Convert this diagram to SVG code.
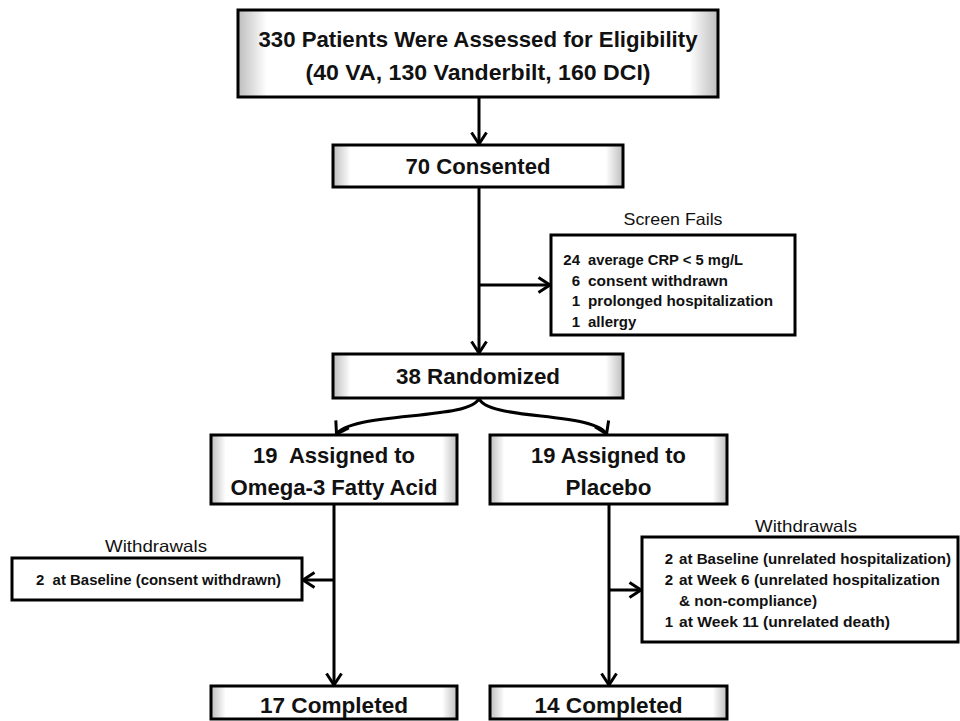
<svg xmlns="http://www.w3.org/2000/svg" width="960" height="721" viewBox="0 0 960 721">
<defs>
<linearGradient id="bevel" x1="0" y1="0" x2="1" y2="0">
<stop offset="0" stop-color="#bdbdbd"/>
<stop offset="0.06" stop-color="#ffffff"/>
<stop offset="0.94" stop-color="#ffffff"/>
<stop offset="1" stop-color="#bdbdbd"/>
</linearGradient>
<marker id="ah" markerUnits="userSpaceOnUse" markerWidth="18" markerHeight="18" viewBox="0 0 18 18" refX="15" refY="9" orient="auto" overflow="visible">
<path d="M2.5,1.5 L14,9 L2.5,16.5" fill="none" stroke="#000" stroke-width="3"/>
</marker>
<style>
.box{fill:url(#bevel);stroke:#000;stroke-width:3}
.plain{fill:#fff;stroke:#000;stroke-width:3}
.conn{fill:none;stroke:#000;stroke-width:3}
.t{font-family:"Liberation Sans",Arial,sans-serif;font-weight:bold;fill:#111}
.big{font-size:22px;text-anchor:middle}
.sm{font-size:15px}
.num{text-anchor:end}
.lbl{font-family:"Liberation Sans",Arial,sans-serif;font-size:16.5px;text-anchor:middle;fill:#111}
</style>
</defs>
<rect width="960" height="721" fill="#fff"/>

<g id="connectors">
<path class="conn" d="M479,97 V145" marker-end="url(#ah)"/>
<path class="conn" d="M479,187 V354" marker-end="url(#ah)"/>
<path class="conn" d="M479,285 H551" marker-end="url(#ah)"/>
<path class="conn" d="M479,398 C472,421 350,411 336,435" marker-end="url(#ah)"/>
<path class="conn" d="M479,398 C486,421 596,411 607,435" marker-end="url(#ah)"/>
<path class="conn" d="M334,504 V686" marker-end="url(#ah)"/>
<path class="conn" d="M334,580 H302" marker-end="url(#ah)"/>
<path class="conn" d="M609,504 V686" marker-end="url(#ah)"/>
<path class="conn" d="M609,590 H642" marker-end="url(#ah)"/>
</g>

<g id="assessed">
<rect class="box" x="238" y="10" width="480" height="87"/>
<text class="t big" x="478" y="47" textLength="439" lengthAdjust="spacingAndGlyphs">330 Patients Were Assessed for Eligibility</text>
<text class="t big" x="478" y="80" textLength="345" lengthAdjust="spacingAndGlyphs">(40 VA, 130 Vanderbilt, 160 DCI)</text>
</g>

<g id="consented">
<rect class="box" x="333" y="145" width="290" height="42"/>
<text class="t big" x="478" y="174" textLength="145" lengthAdjust="spacingAndGlyphs">70 Consented</text>
</g>

<g id="screenfails">
<text class="lbl" x="673" y="225" textLength="99" lengthAdjust="spacingAndGlyphs">Screen Fails</text>
<rect class="plain" x="551" y="235" width="244" height="100"/>
<text class="t sm num" x="580" y="265">24</text>
<text class="t sm" x="588" y="265" textLength="155" lengthAdjust="spacingAndGlyphs">average CRP &lt; 5 mg/L</text>
<text class="t sm num" x="580" y="286">6</text>
<text class="t sm" x="588" y="286" textLength="140" lengthAdjust="spacingAndGlyphs">consent withdrawn</text>
<text class="t sm num" x="580" y="306">1</text>
<text class="t sm" x="588" y="306" textLength="185" lengthAdjust="spacingAndGlyphs">prolonged hospitalization</text>
<text class="t sm num" x="580" y="327">1</text>
<text class="t sm" x="588" y="327">allergy</text>
</g>

<g id="randomized">
<rect class="box" x="333" y="354" width="290" height="44"/>
<text class="t big" x="478" y="384" textLength="164" lengthAdjust="spacingAndGlyphs">38 Randomized</text>
</g>

<g id="omega">
<rect class="box" x="211" y="435" width="246" height="69"/>
<text class="t big" x="334" y="463" textLength="162" lengthAdjust="spacingAndGlyphs">19&#160; Assigned to</text>
<text class="t big" x="334" y="495" textLength="207" lengthAdjust="spacingAndGlyphs">Omega-3 Fatty Acid</text>
</g>

<g id="placebo">
<rect class="box" x="490" y="435" width="237" height="69"/>
<text class="t big" x="608.5" y="463" textLength="155" lengthAdjust="spacingAndGlyphs">19 Assigned to</text>
<text class="t big" x="608.5" y="495" textLength="86" lengthAdjust="spacingAndGlyphs">Placebo</text>
</g>

<g id="withdrawals-left">
<text class="lbl" x="156" y="552" textLength="102" lengthAdjust="spacingAndGlyphs">Withdrawals</text>
<rect class="plain" x="12" y="558" width="290" height="42"/>
<text class="t sm" x="36" y="585" textLength="245" lengthAdjust="spacingAndGlyphs">2&#160; at Baseline (consent withdrawn)</text>
</g>

<g id="withdrawals-right">
<text class="lbl" x="806" y="532" textLength="102" lengthAdjust="spacingAndGlyphs">Withdrawals</text>
<rect class="plain" x="642" y="537" width="316" height="105"/>
<text class="t sm num" x="673" y="564">2</text>
<text class="t sm" x="679" y="564" textLength="272" lengthAdjust="spacingAndGlyphs">at Baseline (unrelated hospitalization)</text>
<text class="t sm num" x="673" y="585">2</text>
<text class="t sm" x="679" y="585" textLength="261" lengthAdjust="spacingAndGlyphs">at Week 6 (unrelated hospitalization</text>
<text class="t sm" x="679" y="606" textLength="138" lengthAdjust="spacingAndGlyphs">&amp; non-compliance)</text>
<text class="t sm num" x="673" y="627">1</text>
<text class="t sm" x="679" y="627" textLength="211" lengthAdjust="spacingAndGlyphs">at Week 11 (unrelated death)</text>
</g>

<g id="completed-omega">
<rect class="box" x="211" y="686" width="246" height="33"/>
<text class="t big" x="334" y="713" textLength="148" lengthAdjust="spacingAndGlyphs">17 Completed</text>
</g>

<g id="completed-placebo">
<rect class="box" x="490" y="686" width="237" height="33"/>
<text class="t big" x="608.5" y="713" textLength="148" lengthAdjust="spacingAndGlyphs">14 Completed</text>
</g>
</svg>
